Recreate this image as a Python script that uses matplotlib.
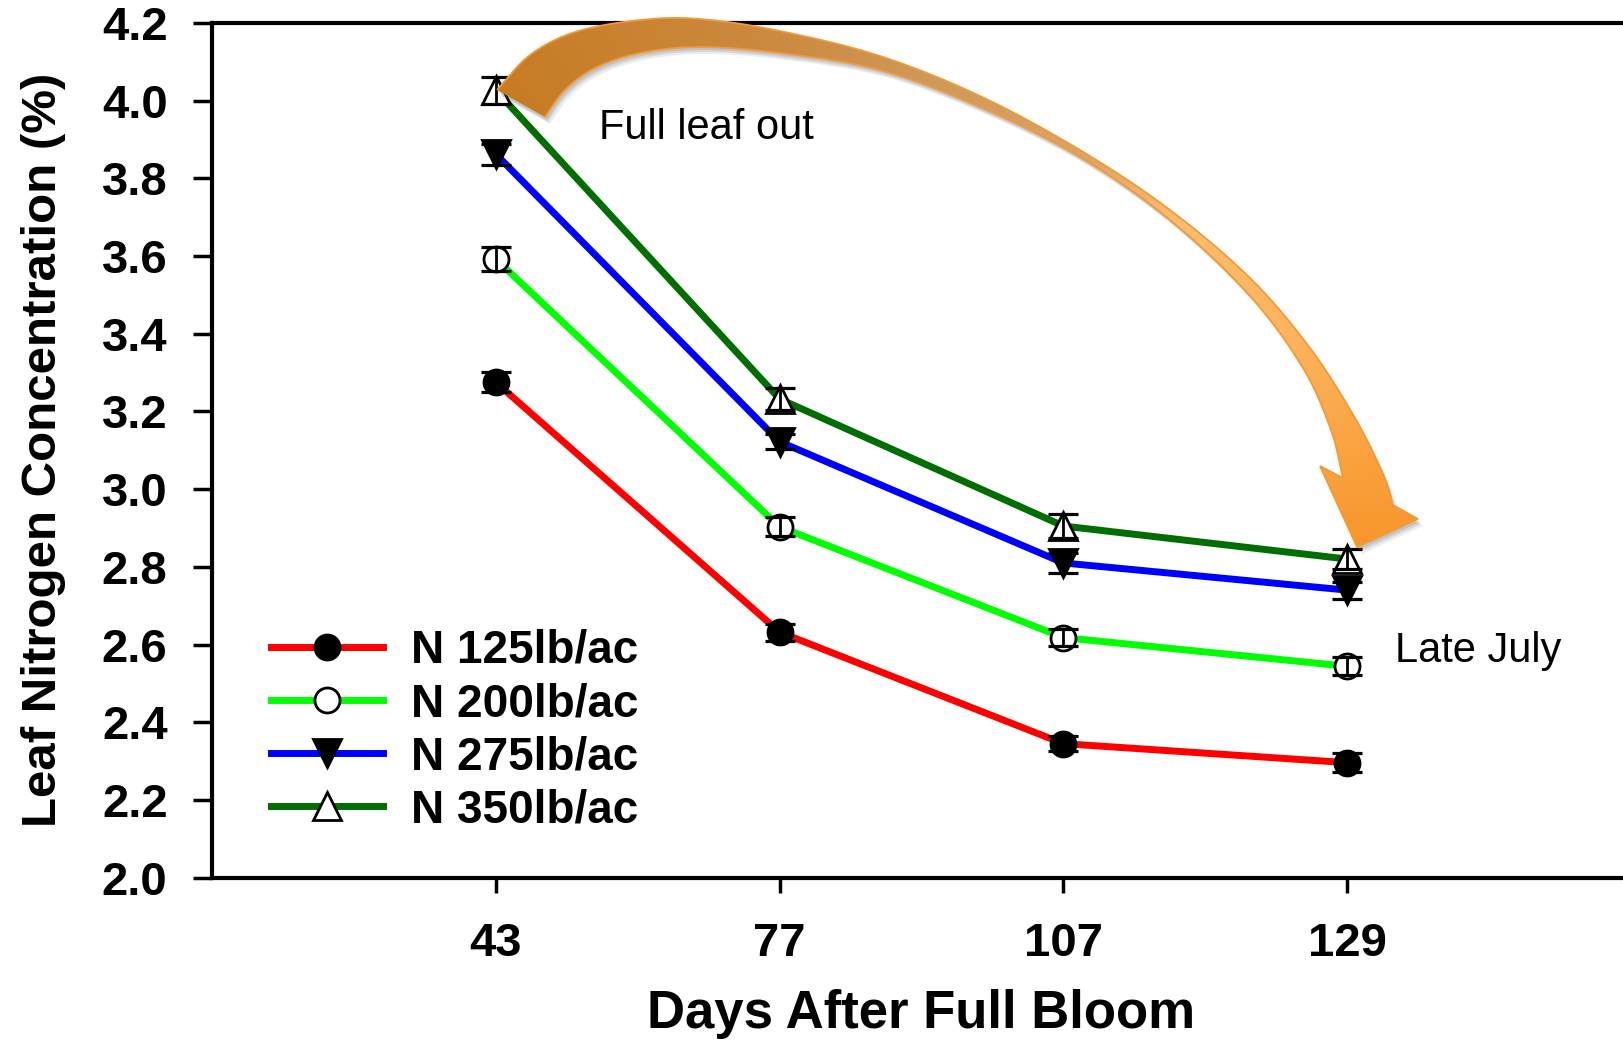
import numpy as np
import matplotlib
matplotlib.use('Agg')
import matplotlib.pyplot as plt
from matplotlib.path import Path
from matplotlib.patches import PathPatch
from matplotlib.colors import to_rgb

# ---------------- data ----------------
days = ['43', '77', '107', '129']
series_labels = ['N 125lb/ac', 'N 200lb/ac', 'N 275lb/ac', 'N 350lb/ac']
n125 = [3.275, 2.632, 2.345, 2.296]
n200 = [3.592, 2.903, 2.618, 2.544]
n275 = [3.862, 3.122, 2.810, 2.740]
n350 = [4.026, 3.232, 2.905, 2.820]
e125 = [0.026, 0.022, 0.020, 0.024]
e200 = [0.032, 0.024, 0.022, 0.023]
e275 = [0.027, 0.020, 0.025, 0.022]
e350 = [0.035, 0.028, 0.030, 0.026]
yticks = [2.0, 2.2, 2.4, 2.6, 2.8, 3.0, 3.2, 3.4, 3.6, 3.8, 4.0, 4.2]

W, H = 1623, 1041
plt.rcParams['font.family'] = ['Liberation Sans', 'DejaVu Sans']
fig = plt.figure(figsize=(W / 100, H / 100), dpi=100)

ax_l, ax_r = 212, 1631
ax_t, ax_b = 22.8, 877.7
ax = fig.add_axes([ax_l / W, 1 - ax_b / H, (ax_r - ax_l) / W, (ax_b - ax_t) / H])

x = np.arange(len(days))
styles = [
    dict(color='#ff0000', marker='o', mfc='black', ms=18),
    dict(color='#00ff00', marker='o', mfc='white', ms=18),
    dict(color='#0000ff', marker='v', mfc='black', ms=20),
    dict(color='#006e00', marker='^', mfc='white', ms=20),
]
for vals, errs, lab, st in zip([n125, n200, n275, n350], [e125, e200, e275, e350],
                               series_labels, styles):
    ax.plot(x, vals, color=st['color'], lw=5, marker=st['marker'], ms=st['ms'],
            mfc=st['mfc'], mec='black', mew=2, label=lab, zorder=4)
    ax.errorbar(x, vals, yerr=errs, fmt='none', ecolor='black', elinewidth=2,
                capsize=11, capthick=2.3, zorder=5)

ax.set_xlim(-1, 4)
ax.set_ylim(2.0, 4.2)
ax.set_yticks(yticks)
ax.set_yticklabels(['%.1f' % v for v in yticks])
ax.set_xticks(x)
ax.set_xticklabels(days)
ax.spines['right'].set_visible(False)
for s in ['left', 'top', 'bottom']:
    ax.spines[s].set_linewidth(3)
ax.tick_params(axis='y', length=14, width=2.5, pad=18, labelsize=34)
ax.tick_params(axis='x', length=11, width=2.5, pad=21, labelsize=34)
for lab in ax.get_xticklabels() + ax.get_yticklabels():
    lab.set_fontweight('bold')

ax.set_xlabel('Days After Full Bloom', fontsize=38, fontweight='bold')
ax.set_ylabel('Leaf Nitrogen Concentration (%)', fontsize=35.5, fontweight='bold')
ax.xaxis.label.set_va('baseline')
ax.xaxis.set_label_coords(0.5, -(1028 - ax_b) / (ax_b - ax_t))
ax.yaxis.set_label_coords(-0.103, 0.5)

leg = ax.legend(loc='upper left', bbox_to_anchor=(0.0416, 0.291), frameon=False,
                prop=dict(weight='bold', size=33), handlelength=2.45,
                handletextpad=0.61, labelspacing=0.2, borderpad=0, borderaxespad=0)

fig.text(599 / W, 1 - 128 / H, 'Full leaf out', fontsize=30, va='center', ha='left')
fig.text(1395 / W, 1 - 651 / H, 'Late July', fontsize=30, va='center', ha='left')

# ---------------- decorative curved arrow ----------------
ov = fig.add_axes([0, 0, 1, 1], zorder=10)
ov.set_xlim(0, W)
ov.set_ylim(H, 0)
ov.axis('off')
ov.patch.set_alpha(0)


def catmull(pts, n=16):
    P = np.array(pts, float)
    P = np.vstack([2 * P[0] - P[1], P, 2 * P[-1] - P[-2]])
    out = []
    for i in range(1, len(P) - 2):
        p0, p1, p2, p3 = P[i - 1], P[i], P[i + 1], P[i + 2]
        for t in np.linspace(0, 1, n, endpoint=False):
            t2, t3 = t * t, t * t * t
            out.append(0.5 * (2 * p1 + (-p0 + p2) * t + (2 * p0 - 5 * p1 + 4 * p2 - p3) * t2
                              + (-p0 + 3 * p1 - 3 * p2 + p3) * t3))
    out.append(P[-2])
    return np.array(out)


outer = [(497, 90), (530, 55), (575, 32), (640, 20), (700, 19), (780, 31), (880, 56),
         (980, 96), (1080, 150), (1170, 210), (1250, 278), (1310, 348), (1355, 418),
         (1383, 474), (1393, 505)]
inner = [(545, 117), (565, 90), (595, 68), (640, 53), (700, 47), (780, 53), (880, 70),
         (980, 107), (1080, 157), (1170, 220), (1250, 296), (1303, 368), (1331, 430),
         (1343, 478)]
head = [(1418, 519), (1357, 547), (1320, 466)]
poly = np.vstack([catmull(outer), np.array(head, float), catmull(inner)[::-1]])

# soft shadow
for off, a in [((5, 7), 0.10), ((3, 5), 0.14), ((2, 3), 0.16)]:
    sp = PathPatch(Path(poly + np.array(off)), facecolor='#555555', edgecolor='none',
                   alpha=a, zorder=1)
    ov.add_patch(sp)

patch = PathPatch(Path(poly), facecolor='none', edgecolor='#f29a38', lw=1.3, zorder=3)
ov.add_patch(patch)

# gradient fill along the arc
yy, xx = np.mgrid[0:H, 0:W]
ang = np.degrees(np.arctan2(560 - yy, xx - 900))
tt = np.clip((129.6 - ang) / 128.0, 0, 1)
stops = [0.0, 0.2, 0.35, 0.5, 0.62, 0.8, 1.0]
cols = np.array([to_rgb(c) for c in ['#c77c24', '#cc8a40', '#d09a5c', '#dca468',
                                      '#fdbd70', '#fdb25a', '#f8962a']])
img = np.dstack([np.interp(tt, stops, cols[:, k]) for k in range(3)])
im = ov.imshow(img, extent=(0, W, H, 0), interpolation='bilinear', zorder=2, aspect='auto')
clip = PathPatch(Path(poly), transform=ov.transData, facecolor='none', edgecolor='none')
im.set_clip_path(clip)
ov.set_xlim(0, W)
ov.set_ylim(H, 0)

fig.savefig('out.png', dpi=100)
